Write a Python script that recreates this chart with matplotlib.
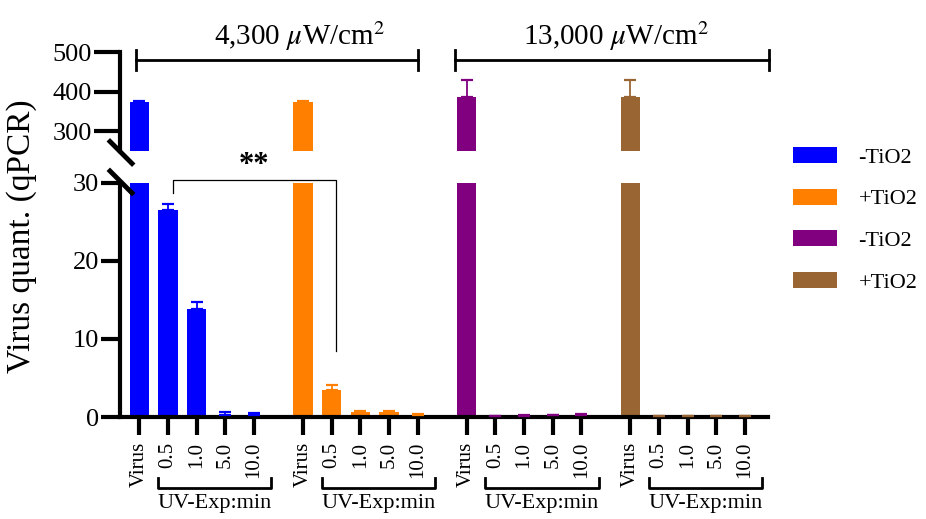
import matplotlib.pyplot as plt
import numpy as np
from matplotlib.patches import Patch
from matplotlib.lines import Line2D

plt.rcParams['font.family'] = ['Liberation Serif', 'DejaVu Serif']
plt.rcParams['mathtext.fontset'] = 'stix'

# data
conditions = ["Virus", "0.5", "1.0", "5.0", "10.0"]
group_labels = ["-TiO2", "+TiO2", "-TiO2", "+TiO2"]
colors = ["#0000FF", "#FF8000", "#800080", "#996633"]

minus_tio2_low = [374, 26.5, 13.8, 0.3, 0.3]
plus_tio2_low = [374, 3.4, 0.6, 0.6, 0.3]
minus_tio2_high = [387, 0.1, 0.15, 0.2, 0.3]
plus_tio2_high = [387, 0.1, 0.1, 0.1, 0.1]

minus_tio2_low_err = [2, 0.8, 1.0, 0.3, 0.25]
plus_tio2_low_err = [2, 0.7, 0.2, 0.2, 0.15]
minus_tio2_high_err = [42, 0.05, 0.05, 0.05, 0.1]
plus_tio2_high_err = [42, 0, 0, 0, 0]

series = [minus_tio2_low, plus_tio2_low, minus_tio2_high, plus_tio2_high]
errors = [minus_tio2_low_err, plus_tio2_low_err, minus_tio2_high_err, plus_tio2_high_err]

group_step = 5.7
width = 0.67

fig = plt.figure(figsize=(9.26, 5.19), dpi=100)
ax_top = fig.add_axes([0.1296, 0.709, 0.6998, 0.1908])
ax_bot = fig.add_axes([0.1296, 0.1965, 0.6998, 0.451])

xs_all = []
for g, (vals, errs, c) in enumerate(zip(series, errors, colors)):
    x = g * group_step + np.arange(len(conditions))
    xs_all.extend(x)
    for ax in (ax_top, ax_bot):
        ax.bar(x, vals, width=width, color=c, zorder=2)
        ax.errorbar(x, vals, yerr=[np.zeros(len(errs)), errs], fmt='none',
                    ecolor=c, elinewidth=1.3, capsize=4, capthick=1.6, zorder=4)

xlim = (-0.67, 21.9)
for ax in (ax_top, ax_bot):
    ax.set_xlim(*xlim)
    ax.spines['top'].set_visible(False)
    ax.spines['right'].set_visible(False)
    ax.spines['left'].set_linewidth(3)
    ax.spines['bottom'].set_linewidth(3)
    ax.tick_params(axis='y', width=3, labelsize=19, pad=1)

ax_top.set_ylim(250, 500)
ax_top.set_yticks([300, 400, 500])
ax_top.spines['bottom'].set_visible(False)
ax_top.set_xticks([])
ax_top.tick_params(axis='y', length=19)

ax_bot.set_ylim(0, 30)
ax_bot.set_yticks([0, 10, 20, 30])
ax_bot.tick_params(axis='y', length=14)
ax_bot.set_xticks(xs_all)
ax_bot.set_xticklabels(conditions * 4, rotation=90, fontsize=15)
ax_bot.tick_params(axis='x', length=13, width=3, pad=5)

# break marks
dx, dy = 11 / 926, 11 / 519
x0 = 121 / 926
for yc in (1 - 152.5 / 519, 1 - 182 / 519):
    fig.add_artist(Line2D([x0 - dx, x0 + dx], [yc + dy, yc - dy],
                          transform=fig.transFigure, color='black', lw=3.5))

# UV exposure brackets under each group
trans = ax_bot.get_xaxis_transform()
for g in range(4):
    a = g * group_step + 0.65
    b = g * group_step + 4.6
    ax_bot.plot([a, a, b, b], [-0.262, -0.302, -0.302, -0.262], color='black',
                lw=2, transform=trans, clip_on=False)
    ax_bot.text((a + b) / 2, -0.37, "UV-Exp:min", transform=trans, ha='center',
                va='center', fontsize=16)

# significance bracket
ax_bot.plot([1.17, 1.17, 6.85, 6.85], [28.7, 30.4, 30.4, 8.4], color='black',
            lw=0.9, clip_on=False)
ax_bot.text(4.0, 32.3, "**", ha='center', va='center', fontsize=22,
            fontweight='bold', clip_on=False)

# intensity brackets on top
for a, b, xt, label in [(-0.1, 9.7, 5.6, r"4,300 $\mu$W/cm$^2$"),
                        (11.0, 21.94, 16.6, r"13,000 $\mu$W/cm$^2$")]:
    ax_top.plot([a, b], [480, 480], color='black', lw=2, clip_on=False)
    for e in (a, b):
        ax_top.plot([e, e], [455, 505], color='black', lw=2, clip_on=False)
    ax_top.text(xt, 540, label, ha='center', va='center', fontsize=21,
                clip_on=False)

fig.text(22 / 926, 0.545, "Virus quant. (qPCR)", rotation=90, ha='center',
         va='center', fontsize=24)

handles = [Patch(facecolor=c) for c in colors]
fig.legend(handles, group_labels, loc='upper left',
           bbox_to_anchor=(793 / 926, 1 - 147 / 519), frameon=False,
           fontsize=16, handlelength=2.0, handleheight=0.75, handletextpad=0.95,
           labelspacing=0.93, borderpad=0, borderaxespad=0)

fig.savefig("out.png", dpi=100)
